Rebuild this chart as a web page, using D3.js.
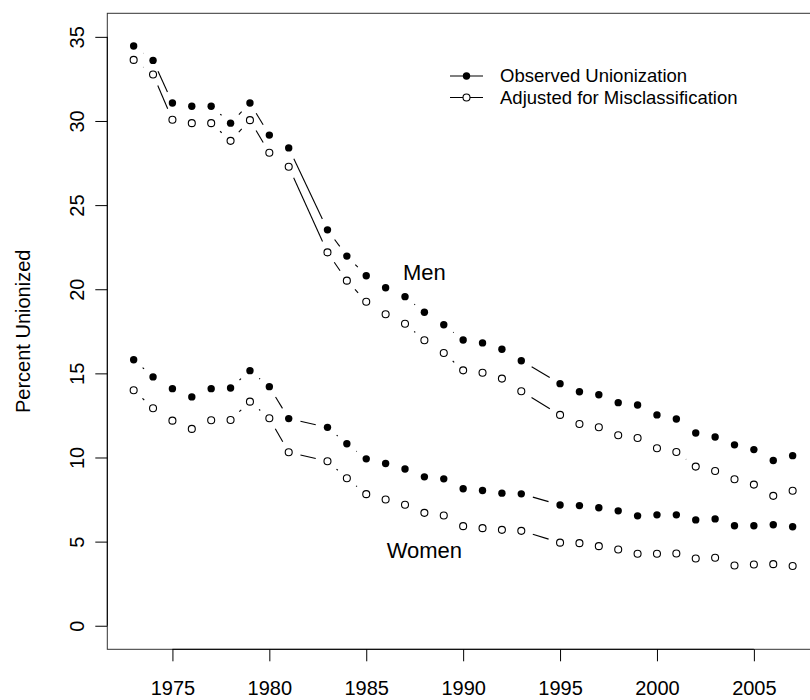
<!DOCTYPE html>
<html>
  <head>
    <meta charset="utf-8">
    <title>Percent unionized</title>
    <script src="https://d3js.org/d3.v7.min.js"></script>
    <style>
      body { margin: 0; background: #fff; }
      svg text { font-family: "Liberation Sans", Arial, sans-serif; fill: #000; }
    </style>
  </head>
  <body>
    <div id="chart"></div>
    <script>
      // data (1982 and 1994 missing)
      const years = [1973, 1974, 1975, 1976, 1977, 1978, 1979, 1980, 1981,
        1983, 1984, 1985, 1986, 1987, 1988, 1989, 1990, 1991, 1992, 1993,
        1995, 1996, 1997, 1998, 1999, 2000, 2001, 2002, 2003, 2004, 2005, 2006, 2007];
      const menObserved = [34.46, 33.6, 31.07, 30.88, 30.88, 29.87, 31.07, 29.16, 28.40,
        23.53, 21.97, 20.80, 20.09, 19.56, 18.63, 17.89, 16.98, 16.81, 16.43, 15.75,
        14.39, 13.91, 13.73, 13.26, 13.12, 12.53, 12.29, 11.46, 11.22, 10.75, 10.47, 9.82, 10.11];
      const menAdjusted = [33.63, 32.76, 30.07, 29.87, 29.87, 28.82, 30.05, 28.11, 27.28,
        22.19, 20.51, 19.26, 18.51, 17.95, 16.97, 16.21, 15.18, 15.04, 14.69, 13.94,
        12.53, 11.99, 11.80, 11.32, 11.16, 10.55, 10.33, 9.46, 9.20, 8.71, 8.39, 7.72, 8.02];
      const womenObserved = [15.81, 14.79, 14.09, 13.60, 14.09, 14.13, 15.16, 14.21, 12.31,
        11.79, 10.82, 9.92, 9.64, 9.32, 8.85, 8.73, 8.14, 8.04, 7.88, 7.84,
        7.18, 7.14, 7.01, 6.83, 6.53, 6.59, 6.59, 6.29, 6.35, 5.94, 5.94, 6.00, 5.88];
      const womenAdjusted = [14.00, 12.93, 12.19, 11.70, 12.21, 12.23, 13.32, 12.33, 10.31,
        9.78, 8.77, 7.82, 7.50, 7.19, 6.71, 6.55, 5.92, 5.80, 5.70, 5.64,
        4.94, 4.91, 4.73, 4.53, 4.28, 4.28, 4.29, 4.00, 4.04, 3.58, 3.64, 3.66, 3.55];
      const xTicks = [1975, 1980, 1985, 1990, 1995, 2000, 2005];
      const yTicks = [0, 5, 10, 15, 20, 25, 30, 35];
      const legendLabels = ["Observed Unionization", "Adjusted for Misclassification"];
      const groupLabels = [{ text: "Men", year: 1988, value: 21 }, { text: "Women", year: 1988, value: 4.5 }];

      const width = 810, height = 700;
      const plot = { left: 107.3, right: 819, top: 13.3, bottom: 649.3 };

      const svg = d3.select("#chart").append("svg")
        .attr("width", width)
        .attr("height", height);

      // scales: R style 4% padding around the data range
      const x = d3.scaleLinear().domain([1971.64, 2008.36]).range([plot.left, plot.right]);
      const y = d3.scaleLinear().domain([-1.4, 36.4]).range([plot.bottom, plot.top]);

      // plot box
      svg.append("rect")
        .attr("x", plot.left)
        .attr("y", plot.top)
        .attr("width", plot.right - plot.left)
        .attr("height", plot.bottom - plot.top)
        .attr("fill", "none")
        .attr("stroke", "#333")
        .attr("stroke-width", 1);

      // y axis
      const yAxis = svg.append("g")
        .attr("transform", `translate(${plot.left},0)`)
        .call(d3.axisLeft(y).tickValues(yTicks).tickSize(12).tickSizeOuter(0));
      yAxis.select(".domain").remove();
      yAxis.append("line")
        .attr("y1", y(yTicks[0])).attr("y2", y(yTicks[yTicks.length - 1]))
        .attr("stroke", "#000");
      yAxis.selectAll(".tick line").attr("stroke", "#000");
      yAxis.selectAll(".tick text")
        .attr("x", null).attr("dy", null)
        .attr("transform", "translate(-23,0) rotate(-90)")
        .attr("text-anchor", "middle")
        .style("font-size", "20px");

      // x axis
      const xAxis = svg.append("g")
        .attr("transform", `translate(0,${plot.bottom})`)
        .call(d3.axisBottom(x).tickValues(xTicks).tickFormat(d3.format("d")).tickSize(12).tickSizeOuter(0));
      xAxis.select(".domain").remove();
      xAxis.append("line")
        .attr("x1", x(xTicks[0])).attr("x2", x(xTicks[xTicks.length - 1]))
        .attr("stroke", "#000");
      xAxis.selectAll(".tick line").attr("stroke", "#000");
      xAxis.selectAll(".tick text")
        .attr("y", 46).attr("dy", null)
        .style("font-size", "20px");

      // axis title
      svg.append("text")
        .attr("transform", `translate(30,${(plot.top + plot.bottom) / 2}) rotate(-90)`)
        .attr("text-anchor", "middle")
        .style("font-size", "20px")
        .text("Percent Unionized");

      // type = "b": segments stop short of each point
      const gap = 12;
      function drawSeries(values, filled) {
        const pts = years.map((yr, i) => [x(yr), y(values[i])]);
        const g = svg.append("g");
        for (let i = 0; i < pts.length - 1; i++) {
          const [x0, y0] = pts[i], [x1, y1] = pts[i + 1];
          const d = Math.hypot(x1 - x0, y1 - y0);
          if (d <= 2 * gap) continue;
          const ux = (x1 - x0) / d, uy = (y1 - y0) / d;
          g.append("line")
            .attr("x1", x0 + ux * gap).attr("y1", y0 + uy * gap)
            .attr("x2", x1 - ux * gap).attr("y2", y1 - uy * gap)
            .attr("stroke", "#000")
            .attr("stroke-width", 1.1);
        }
        g.selectAll("circle")
          .data(pts)
          .enter().append("circle")
            .attr("cx", d => d[0])
            .attr("cy", d => d[1])
            .attr("r", filled ? 3.7 : 3.5)
            .attr("fill", filled ? "#000" : "#fff")
            .attr("stroke", "#000")
            .attr("stroke-width", filled ? 0 : 1.1);
      }
      drawSeries(menObserved, true);
      drawSeries(menAdjusted, false);
      drawSeries(womenObserved, true);
      drawSeries(womenAdjusted, false);

      // group labels
      svg.selectAll(".group-label")
        .data(groupLabels)
        .enter().append("text")
          .attr("class", "group-label")
          .attr("x", d => x(d.year))
          .attr("y", d => y(d.value))
          .attr("dy", "0.35em")
          .attr("text-anchor", "middle")
          .style("font-size", "22px")
          .text(d => d.text);

      // legend
      const legend = svg.append("g").attr("transform", "translate(450,76)");
      legendLabels.forEach((label, i) => {
        const row = legend.append("g").attr("transform", `translate(0,${i * 21.5})`);
        row.append("line")
          .attr("x1", 0).attr("x2", 33)
          .attr("stroke", "#000")
          .attr("stroke-width", 1.1);
        row.append("circle")
          .attr("cx", 16.5)
          .attr("r", i === 0 ? 3.7 : 3.5)
          .attr("fill", i === 0 ? "#000" : "#fff")
          .attr("stroke", "#000")
          .attr("stroke-width", i === 0 ? 0 : 1.1);
        row.append("text")
          .attr("x", 50)
          .attr("dy", "0.35em")
          .style("font-size", "18.5px")
          .text(label);
      });
    </script>
  </body>
</html>
